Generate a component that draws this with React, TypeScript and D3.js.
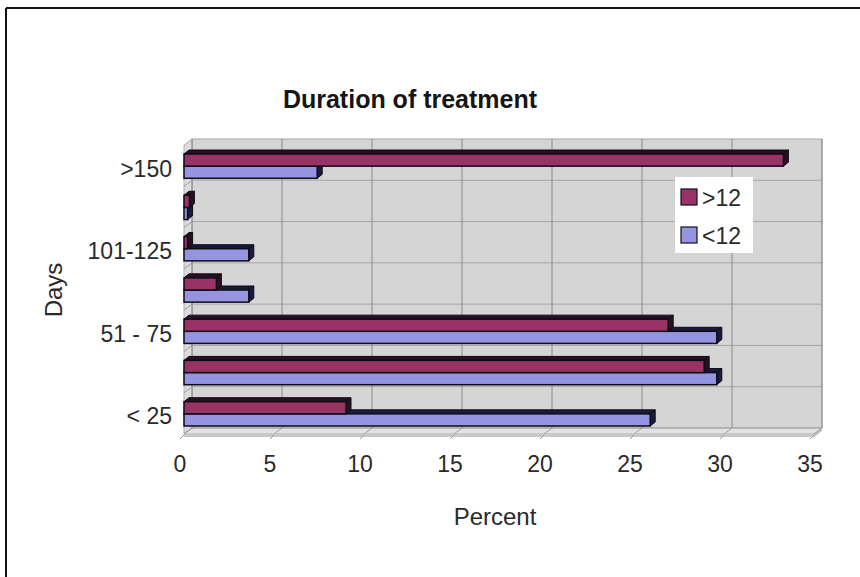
import React from "react";
import * as d3 from "d3";

const categories = ["< 25", "26 - 50", "51 - 75", "76 - 100", "101-125", "126-150", ">150"];
const shownCategoryLabels = ["< 25", "51 - 75", "101-125", ">150"];
const seriesNames = [">12", "<12"];
const over12 = [9.0, 28.9, 26.9, 1.8, 0.2, 0.3, 33.3];
const under12 = [25.9, 29.6, 29.6, 3.6, 3.6, 0.2, 7.4];
const xTicks = [0, 5, 10, 15, 20, 25, 30, 35];

const W = 860;
const H = 577;
const FONT = "'Liberation Sans', Arial, Helvetica, sans-serif";

const DX = 8; // depth offset of back wall
const DY = 6;
const BDX = 5; // bar depth
const BDY = 4;

const frontColors = { ">12": "#993366", "<12": "#9494e0" };
const topColors = { ">12": "#2a0f22", "<12": "#1a1a3c" };
const TEXT = "#2a2a2a";

export default function App() {
  const xF = d3.scaleLinear().domain([0, 35]).range([184, 814]);
  const xB = (v: number) => xF(v) + DX;
  const frontTop = 145;
  const frontBottom = 434;
  const y0 = d3
    .scaleBand<string>()
    .domain(categories)
    .range([frontBottom, frontTop])
    .padding(0);
  const bw = y0.bandwidth();
  const y1 = d3.scaleBand<string>().domain(seriesNames).range([9, bw - 8]).padding(0);

  const wallTop = frontTop - DY;
  const wallBottom = frontBottom - DY;

  const rows = categories.map((c, i) => ({
    c,
    vals: [
      { s: ">12", v: over12[i] },
      { s: "<12", v: under12[i] },
    ],
  }));

  return (
    <svg width={W} height={H} style={{ display: "block", position: "absolute", left: 0, top: 0 }}>
      <rect x={0} y={0} width={W} height={H} fill="#ffffff" />
      {/* outer frame (top & left) */}
      <line x1={6} y1={8} x2={W} y2={8} stroke="#111" strokeWidth={2} />
      <line x1={6} y1={8} x2={6} y2={H} stroke="#111" strokeWidth={2} />

      {/* title */}
      <text x={410} y={108} textAnchor="middle" fontFamily={FONT} fontSize={25} fontWeight="bold" fill="#151515">
        Duration of treatment
      </text>

      {/* back wall */}
      <rect x={xB(0)} y={wallTop} width={xB(35) - xB(0)} height={wallBottom - wallTop} fill="#d5d5d5" stroke="#a8a8a8" />
      {/* side wall */}
      <polygon
        points={`${xF(0)},${frontTop} ${xB(0)},${wallTop} ${xB(0)},${wallBottom} ${xF(0)},${frontBottom}`}
        fill="#dcdcdc"
        stroke="#b0b0b0"
      />
      {/* floor */}
      <polygon
        points={`${xF(0)},${frontBottom} ${xB(0)},${wallBottom} ${xB(35)},${wallBottom} ${xF(35)},${frontBottom}`}
        fill="#e2e2e2"
        stroke="#b0b0b0"
      />
      <rect x={xF(0)} y={frontBottom} width={xF(35) - xF(0)} height={3} fill="#c8c8c8" />
      <polygon
        points={`${xF(35)},${frontBottom} ${xB(35)},${wallBottom} ${xB(35)},${wallBottom + 3} ${xF(35)},${frontBottom + 3}`}
        fill="#bdbdbd"
      />

      {/* horizontal gridlines on wall + side wall */}
      {categories.map((c, i) => {
        const yf = (y0(c) as number) + bw;
        const yb = yf - DY;
        return (
          <g key={"hg" + i}>
            <line x1={xB(0)} x2={xB(35)} y1={yb} y2={yb} stroke="#a6a6a6" strokeWidth={1} />
            <line x1={xF(0)} x2={xB(0)} y1={yf} y2={yb} stroke="#a0a0a0" strokeWidth={1} />
          </g>
        );
      })}
      {/* vertical gridlines */}
      {xTicks.map((t) => (
        <g key={"vg" + t}>
          <line x1={xB(t)} x2={xB(t)} y1={wallTop} y2={wallBottom} stroke="#8a8a8a" strokeWidth={1} />
          <line x1={xF(t)} x2={xB(t)} y1={frontBottom} y2={wallBottom} stroke="#a0a0a0" strokeWidth={1} />
          <line x1={xF(t)} x2={xF(t) - 4} y1={frontBottom + 1} y2={frontBottom + 5} stroke="#9a9a9a" strokeWidth={1} />
        </g>
      ))}

      {/* bars */}
      {rows.map((r) => (
        <g key={r.c}>
          {[...r.vals].reverse().map((d) => {
            const yt = (y0(r.c) as number) + (y1(d.s) as number);
            const h = y1.bandwidth();
            const xa = xF(0);
            const xe = xF(d.v);
            return (
              <g key={d.s}>
                <polygon
                  points={`${xa},${yt} ${xa + BDX},${yt - BDY} ${xe + BDX},${yt - BDY} ${xe},${yt}`}
                  fill={topColors[d.s]}
                  stroke="#0c0c14"
                  strokeWidth={1}
                />
                <polygon
                  points={`${xe},${yt} ${xe + BDX},${yt - BDY} ${xe + BDX},${yt + h - BDY} ${xe},${yt + h}`}
                  fill={topColors[d.s]}
                  stroke="#0c0c14"
                  strokeWidth={1}
                />
                <rect x={xa} y={yt} width={Math.max(0.5, xe - xa)} height={h} fill={frontColors[d.s]} stroke="#0c0c14" strokeWidth={1.5} />
              </g>
            );
          })}
        </g>
      ))}

      {/* category labels */}
      {shownCategoryLabels.map((c) => (
        <text
          key={"cl" + c}
          x={172}
          y={(y0(c) as number) + bw / 2 + 11}
          textAnchor="end"
          fontFamily={FONT}
          fontSize={23}
          fill={TEXT}
        >
          {c}
        </text>
      ))}

      {/* x tick labels */}
      {xTicks.map((t) => (
        <text key={"xt" + t} x={xF(t) - 4} y={472} textAnchor="middle" fontFamily={FONT} fontSize={23} fill={TEXT}>
          {t}
        </text>
      ))}

      {/* axis titles */}
      <text x={495} y={525} textAnchor="middle" fontFamily={FONT} fontSize={24} fill={TEXT}>
        Percent
      </text>
      <text
        transform={`translate(62,290) rotate(-90)`}
        textAnchor="middle"
        fontFamily={FONT}
        fontSize={24}
        fill={TEXT}
      >
        Days
      </text>

      {/* legend */}
      <rect x={675} y={177} width={78} height={76} fill="#ffffff" />
      {seriesNames.map((s, i) => (
        <g key={"lg" + s}>
          <rect x={681} y={189 + i * 38} width={16} height={16} fill={frontColors[s]} stroke="#111" strokeWidth={1.2} />
          <text x={702} y={206 + i * 38} fontFamily={FONT} fontSize={23} fill={TEXT}>
            {s}
          </text>
        </g>
      ))}
    </svg>
  );
}
